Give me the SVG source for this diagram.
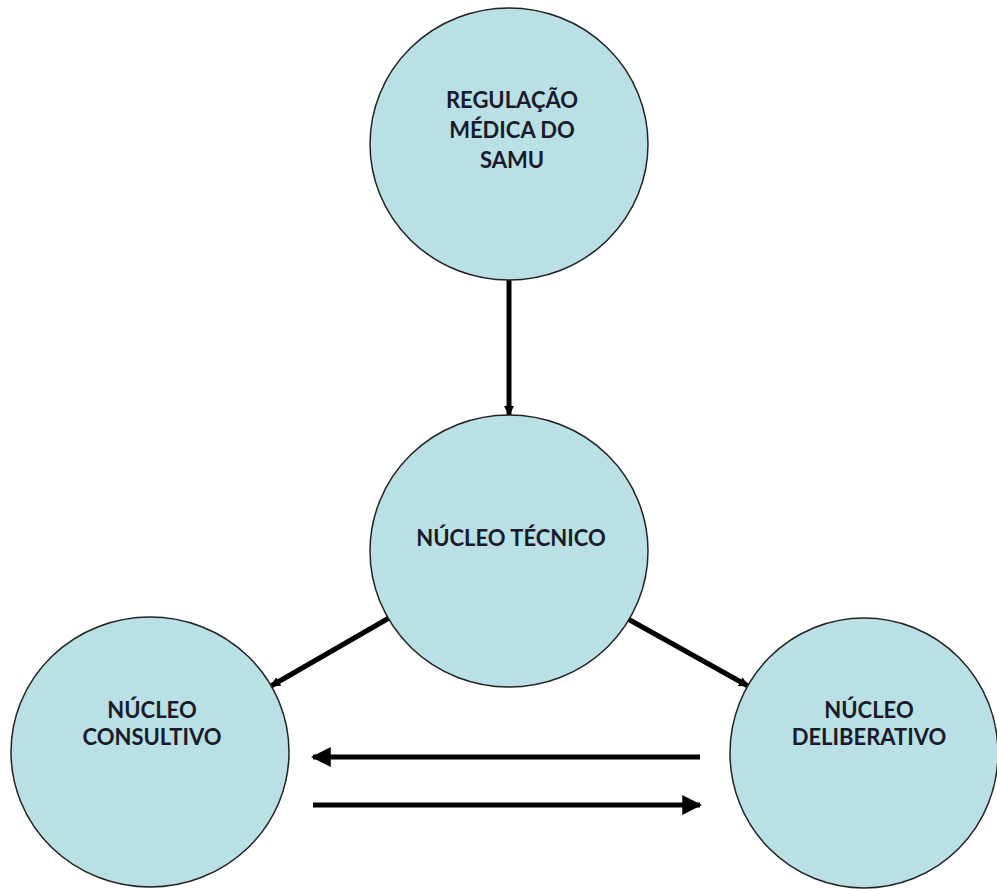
<svg xmlns="http://www.w3.org/2000/svg" width="997" height="889" viewBox="0 0 997 889">
<defs>
<style>
.node ellipse{fill:#b9e0e4;stroke:#222;stroke-width:1.5}
.node text{font-family:Lato,"Open Sans","Liberation Sans",sans-serif;font-weight:700;font-size:22px;fill:#1a1a2a;text-anchor:middle}
.conn line{stroke:#000;stroke-width:5}
</style>
<marker id="big" markerUnits="userSpaceOnUse" markerWidth="20" markerHeight="20" viewBox="0 0 18 18" refX="16" refY="9" orient="auto">
<path d="M0,0 L18,9 L0,18 Z" fill="#000"/>
</marker>
<marker id="small" markerUnits="userSpaceOnUse" markerWidth="10" markerHeight="10" viewBox="0 0 10 10" refX="9" refY="5" orient="auto">
<path d="M0,0 L10,5 L0,10 Z" fill="#000"/>
</marker>
</defs>
<rect width="997" height="889" fill="#fff"/>
<g id="connectors" class="conn">
<line x1="509" y1="280" x2="509" y2="415" marker-end="url(#small)"/>
<line x1="389" y1="618" x2="271" y2="686" marker-end="url(#small)"/>
<line x1="628" y1="619" x2="748" y2="686" marker-end="url(#small)"/>
<line x1="700" y1="757" x2="313" y2="757" marker-end="url(#big)"/>
<line x1="313" y1="805" x2="700" y2="805" marker-end="url(#big)"/>
</g>
<g id="n-regulacao" class="node">
<ellipse cx="509" cy="144" rx="139" ry="136"/>
<text x="512" y="108">REGULAÇÃO</text>
<text x="512" y="138">MÉDICA DO</text>
<text x="512" y="168">SAMU</text>
</g>
<g id="n-tecnico" class="node">
<ellipse cx="509" cy="551" rx="139" ry="136"/>
<text x="511" y="546">NÚCLEO TÉCNICO</text>
</g>
<g id="n-consultivo" class="node">
<ellipse cx="150" cy="752" rx="139" ry="135"/>
<text x="152" y="718">NÚCLEO</text>
<text x="152" y="745">CONSULTIVO</text>
</g>
<g id="n-deliberativo" class="node">
<ellipse cx="864" cy="753" rx="134" ry="135"/>
<text x="869" y="718">NÚCLEO</text>
<text x="869" y="745">DELIBERATIVO</text>
</g>
</svg>
